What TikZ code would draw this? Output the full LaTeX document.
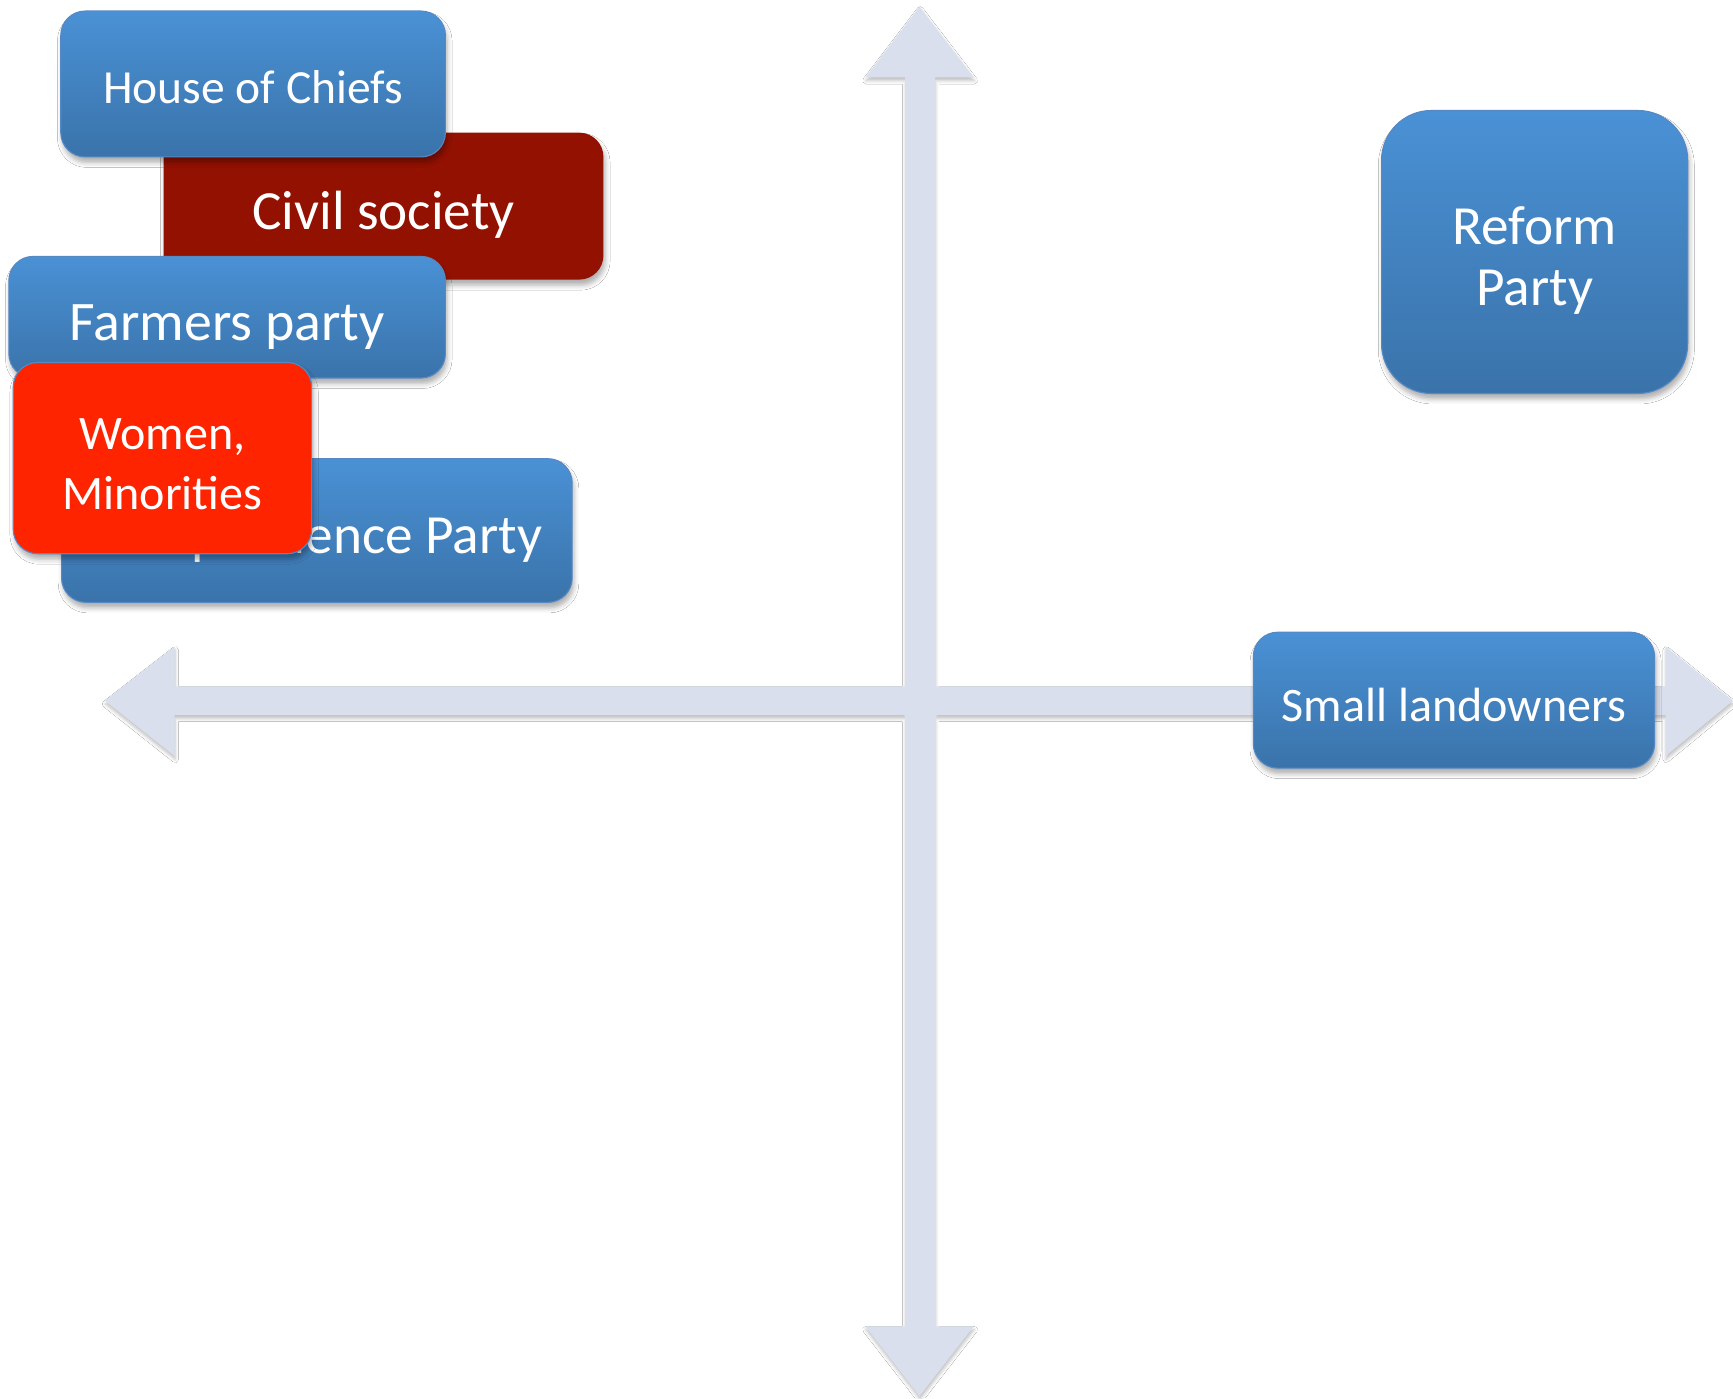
\documentclass[tikz,border=0pt]{standalone}
\usepackage{fontspec}
\setmainfont{Carlito}
\usetikzlibrary{shadows.blur}
\definecolor{bluetop}{RGB}{74,145,213}
\definecolor{bluebot}{RGB}{58,115,170}
\definecolor{blueedge}{RGB}{86,136,196}
\definecolor{darkred}{RGB}{147,17,0}
\definecolor{brightred}{RGB}{255,36,0}
\definecolor{axiscol}{RGB}{217,223,236}
\newcommand\tstrut{\rule{0pt}{1.2em}}
\newcommand\bstrut[1][0.36em]{\rule[-#1]{0pt}{0pt}}
\begin{document}
\begin{tikzpicture}[x=1pt,y=-1pt,
  softshadow/.style={blur shadow={shadow xshift=1.5pt, shadow yshift=-5pt, shadow blur radius=4.5pt, shadow opacity=32}},
  bluebox/.style={rectangle, rounded corners=22pt, top color=bluetop, bottom color=bluebot, draw=blueedge, line width=1pt, text=white, align=center, inner sep=0pt, softshadow},
  redbox/.style={rectangle, rounded corners=22pt, fill=darkred, text=white, align=center, inner sep=0pt, softshadow},
  brightbox/.style={rectangle, rounded corners=22pt, fill=brightred, draw=blueedge, line width=1pt, text=white, align=center, inner sep=0pt, softshadow},
  axisarrow/.style={fill=axiscol, nonzero rule, blur shadow={shadow xshift=0.5pt, shadow yshift=-3pt, shadow blur radius=3pt, shadow opacity=25}}
]
\useasboundingbox (0,0) rectangle (1568,1265);
\fill[white] (0,0) rectangle (1568,1265);

% axes (one merged cross shape, both outlines run the same way round)
\coordinate (top) at (832,6);
\coordinate (bottom) at (832,1263);
\coordinate (left) at (95,634);
\coordinate (right) at (1568,634);
\fill[axisarrow]
  (819,70) -- (783,70) -- (top) -- (881,70) -- (846,70) -- (846,1200) -- (881,1200) -- (bottom) -- (783,1200) -- (819,1200) -- cycle
  (158,647) -- (158,684) -- (left) -- (158,585) -- (158,621) -- (1507,621) -- (1507,585) -- (right) -- (1507,684) -- (1507,647) -- cycle;

% right side boxes
\node[bluebox, rounded corners=45pt, minimum width=277pt, minimum height=256pt, font=\fontsize{50}{55}\selectfont] (reform) at (1388.5,228) {\tstrut Reform\\Party\bstrut};
\node[bluebox, minimum width=363pt, minimum height=123pt, font=\fontsize{43.5}{52}\selectfont] (small) at (1315.5,633.5) {\tstrut Small landowners\bstrut[0.3em]};

% left cluster
\node[redbox, minimum width=398pt, minimum height=133pt, font=\fontsize{50}{60}\selectfont] (civil) at (347,186.5) {\tstrut Civil society\bstrut};
\node[bluebox, minimum width=348pt, minimum height=132pt, font=\fontsize{43}{52}\selectfont] (house) at (229,76) {\tstrut House of Chiefs\bstrut};
\node[bluebox, minimum width=395pt, minimum height=110pt, font=\fontsize{50.5}{60}\selectfont] (farmers) at (205.5,287) {\tstrut Farmers party\bstrut};
\node[bluebox, minimum width=462pt, minimum height=130pt, font=\fontsize{50}{60}\selectfont] (indep) at (286.7,480) {\tstrut Independence Party\bstrut};
\node[brightbox, minimum width=270pt, minimum height=173pt, font=\fontsize{43.5}{54}\selectfont] (women) at (147,414.5) {\tstrut Women,\\Minorities\bstrut[0.3em]};
\end{tikzpicture}
\end{document}
